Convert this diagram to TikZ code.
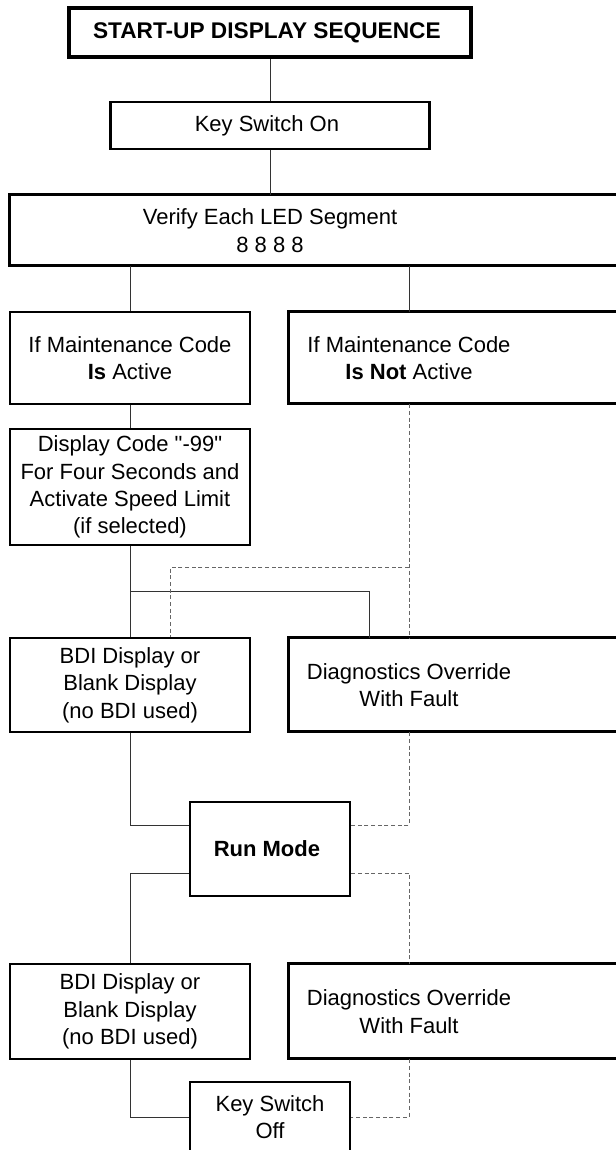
\documentclass[tikz,border=0pt]{standalone}
\usepackage{fontspec}
\setmainfont{Liberation Sans}
\usetikzlibrary{calc}

\begin{document}
\begin{tikzpicture}[x=0.75pt, y=-0.75pt,
    every node/.style={font=\fontsize{16.5}{20.5}\selectfont, align=center, inner sep=0pt},
    box/.style={rectangle, draw, line width=2pt, minimum width=180pt},
    openbox/.style={rectangle, minimum width=180pt},
    frame/.style={line width=2pt},
    link/.style={draw=black!80, line width=0.7pt},
    dlink/.style={draw=black!60, line width=0.7pt, dash pattern=on 3pt off 2pt}]
    \useasboundingbox (0,0) rectangle (616,1150);
    \clip (0,0) rectangle (616,1150);
    %start-up sequence
    \node[box, line width=3pt, minimum width=301.5pt, minimum height=36.75pt, font=\fontsize{17}{20.5}\selectfont] at (270,32.5) (title){ \textbf{START-UP DISPLAY SEQUENCE} };
    \node[box, minimum width=239.25pt, minimum height=35.25pt] at (270,125.5) (keyon){ Key Switch On };
    \node[openbox, minimum width=390pt, minimum height=53.25pt] at (270,230.5) (verify){ Verify Each LED Segment\\8 8 8 8 };
    \draw[frame] (verify.north west) rectangle ++(650,71);
    \node[box, minimum height=69pt] at (130,358) (active){ If Maintenance Code\\\textbf{Is} Active };
    \node[openbox, minimum height=69pt] at (409,358) (notact){ If Maintenance Code\\\textbf{Is Not} Active };
    \draw[frame] (notact.north west) rectangle ++(380,92);
    \node[box, minimum height=87pt] at (130,487) (code){ Display Code \textquotedbl-99\textquotedbl\\For Four Seconds and\\Activate Speed Limit\\(if selected) };
    %first display pair
    \node[box, minimum height=70.5pt] at (130,685) (bdiA){ BDI Display or\\Blank Display\\(no BDI used) };
    \node[openbox, minimum height=70.5pt] at (409,685) (diagA){ Diagnostics Override\\With Fault };
    \draw[frame] (diagA.north west) rectangle ++(380,94);
    \node[box, minimum width=120pt, minimum height=70.5pt] at (270,849) (run){ \textbf{Run Mode} };
    %second display pair
    \node[box, minimum height=71.25pt] at (130,1011.5) (bdiB){ BDI Display or\\Blank Display\\(no BDI used) };
    \node[openbox, minimum height=71.25pt] at (409,1011.5) (diagB){ Diagnostics Override\\With Fault };
    \draw[frame] (diagB.north west) rectangle ++(380,95);
    \node[box, minimum width=120pt, minimum height=52.5pt] at (270,1117) (keyoff){ Key Switch\\Off };

    \coordinate (splitA) at ($(code.south)!0.5!(bdiA.north)$);
    \coordinate (splitB) at ($(notact.south)!0.7!(diagA.north)$);

    \draw[link] (title) -- (keyon);
    \draw[link] (keyon) -- (verify);
    \draw[link] (active |- verify.south) -- (active);
    \draw[link] (notact |- verify.south) -- (notact);
    \draw[link] (active) -- (code);
    \draw[link] (code) -- (bdiA);
    \draw[link] (splitA) -| ([xshift=-30pt]diagA.north);
    \draw[dlink] (notact) -- (diagA);
    \draw[dlink] (splitB) -| ([xshift=30pt]bdiA.north);
    \draw[link] (bdiA) |- ([yshift=18pt]run.west);
    \draw[dlink] (diagA) |- ([yshift=18pt]run.east);
    \draw[link] ([yshift=-18pt]run.west) -| (bdiB);
    \draw[dlink] ([yshift=-18pt]run.east) -| (diagB);
    \draw[link] (bdiB) |- (keyoff);
    \draw[dlink] (diagB) |- (keyoff);
\end{tikzpicture}
\end{document}
